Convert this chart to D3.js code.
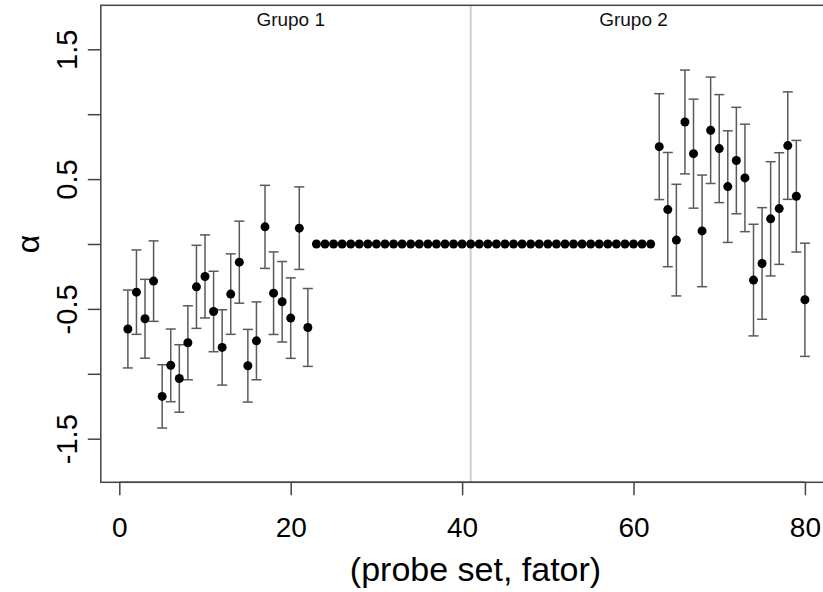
<!DOCTYPE html>
<html><head><meta charset="utf-8">
<script src="https://cdn.jsdelivr.net/npm/d3@7"></script>
<style>body{margin:0;background:#fff;} svg{display:block;font-family:"Liberation Sans",Arial,sans-serif;}</style>
</head><body>
<svg id="c" width="823" height="592"></svg>
<script>
// probe set index (1..80)
const probe = d3.range(1, 81);
const alpha = [
 -0.655, -0.371, -0.576, -0.286, -1.174, -0.935, -1.036, -0.761, -0.330, -0.250, -0.520,
 -0.797, -0.386, -0.140, -0.938, -0.746, 0.132, -0.379, -0.445, -0.571, 0.122, -0.643,
 0,0,0,0,0,0,0,0,0,0, 0,0,0,0,0,0,0,0,0,0, 0,0,0,0,0,0,0,0,0,0, 0,0,0,0,0,0,0,0,0,0,
 0.750, 0.265, 0.030, 0.940, 0.696, 0.101, 0.876, 0.735, 0.442, 0.643, 0.509,
 -0.278, -0.150, 0.194, 0.273, 0.758, 0.368, -0.430
];
const se = [
 0.300, 0.325, 0.304, 0.310, 0.244, 0.280, 0.260, 0.285, 0.320, 0.320, 0.310,
 0.290, 0.310, 0.316, 0.280, 0.300, 0.320, 0.318, 0.310, 0.310, 0.318, 0.300,
 0,0,0,0,0,0,0,0,0,0, 0,0,0,0,0,0,0,0,0,0, 0,0,0,0,0,0,0,0,0,0, 0,0,0,0,0,0,0,0,0,0,
 0.408, 0.440, 0.430, 0.400, 0.420, 0.430, 0.410, 0.416, 0.430, 0.410, 0.414,
 0.430, 0.430, 0.440, 0.430, 0.414, 0.430, 0.436
];
const xTicks = [0, 20, 40, 60, 80];
const yTicks = [-1.5, -1, -0.5, 0, 0.5, 1, 1.5];
const yLabels = ["-1.5", "", "-0.5", "", "0.5", "", "1.5"];
const groupNames = ["Grupo 1", "Grupo 2"];
const groupPos = [20, 60];
const divider = 41;

const svg = d3.select("#c");
const L = 100.8, R = 832, T = 5.3, B = 482.3;
const x = d3.scaleLinear().domain([-2.16, 83.16]).range([L, R]);
const y = d3.scaleLinear().domain([-1.836, 1.839]).range([B, T]);
const FONT = "Liberation Sans, Arial, sans-serif";

// divider line
svg.append("line").attr("x1", x(divider)).attr("x2", x(divider))
  .attr("y1", T).attr("y2", B).attr("stroke", "#cfcfcf").attr("stroke-width", 2);

// box
svg.append("rect").attr("x", L).attr("y", T).attr("width", R - L).attr("height", B - T)
  .attr("fill", "none").attr("stroke", "#444").attr("stroke-width", 1.5);

// group labels
svg.selectAll("text.grp").data(groupNames).join("text").attr("class", "grp")
  .attr("x", (d, i) => x(groupPos[i])).attr("y", 26)
  .attr("text-anchor", "middle").attr("font-size", 19).attr("fill", "#111").text(d => d);

// axes
const yAxis = d3.axisLeft(y).tickValues(yTicks).tickSize(13)
  .tickFormat((d, i) => yLabels[i]);
const gy = svg.append("g").attr("transform", `translate(${L},0)`).call(yAxis);
gy.select(".domain").remove();
gy.selectAll(".tick line").attr("stroke", "#444").attr("stroke-width", 1.5);
gy.selectAll(".tick text").attr("x", null).attr("dy", null)
  .attr("transform", `translate(${67 - L},0) rotate(-90)`)
  .attr("text-anchor", "middle").attr("dominant-baseline", "central")
  .attr("font-size", 29).attr("fill", "#000").attr("font-family", FONT);

const xAxis = d3.axisBottom(x).tickValues(xTicks).tickSize(13);
const gx = svg.append("g").attr("transform", `translate(0,${B})`).call(xAxis);
gx.select(".domain").attr("d", `M${x(0)},0H${x(80)}`).attr("stroke", "#444").attr("stroke-width", 1.5);
gx.selectAll(".tick line").attr("stroke", "#444").attr("stroke-width", 1.5);
gx.selectAll(".tick text").attr("y", 55).attr("dy", null)
  .attr("font-size", 28).attr("fill", "#000").attr("font-family", FONT);

// axis titles
svg.append("text").attr("x", 475.5).attr("y", 581).attr("text-anchor", "middle")
  .attr("font-size", 34).attr("font-family", FONT).text("(probe set, fator)");
svg.append("text").attr("transform", `translate(39,${y(0)}) rotate(-90)`)
  .attr("text-anchor", "middle").attr("font-size", 32).attr("font-family", FONT).text("α");

// error bars
const data = probe.map((p, i) => ({ p, a: alpha[i], s: se[i] }));
const eb = svg.append("g").attr("stroke", "#5a5a5a").attr("stroke-width", 1.5);
data.filter(d => d.s > 0).forEach(d => {
  const cx = x(d.p), y1 = y(d.a + d.s), y2 = y(d.a - d.s);
  eb.append("line").attr("x1", cx).attr("x2", cx).attr("y1", y1).attr("y2", y2);
  eb.append("line").attr("x1", cx - 5).attr("x2", cx + 5).attr("y1", y1).attr("y2", y1);
  eb.append("line").attr("x1", cx - 5).attr("x2", cx + 5).attr("y1", y2).attr("y2", y2);
});

// points
svg.append("g").selectAll("circle").data(data).join("circle")
  .attr("cx", d => x(d.p)).attr("cy", d => y(d.a)).attr("r", 4.5).attr("fill", "#000");
</script>
</body></html>
